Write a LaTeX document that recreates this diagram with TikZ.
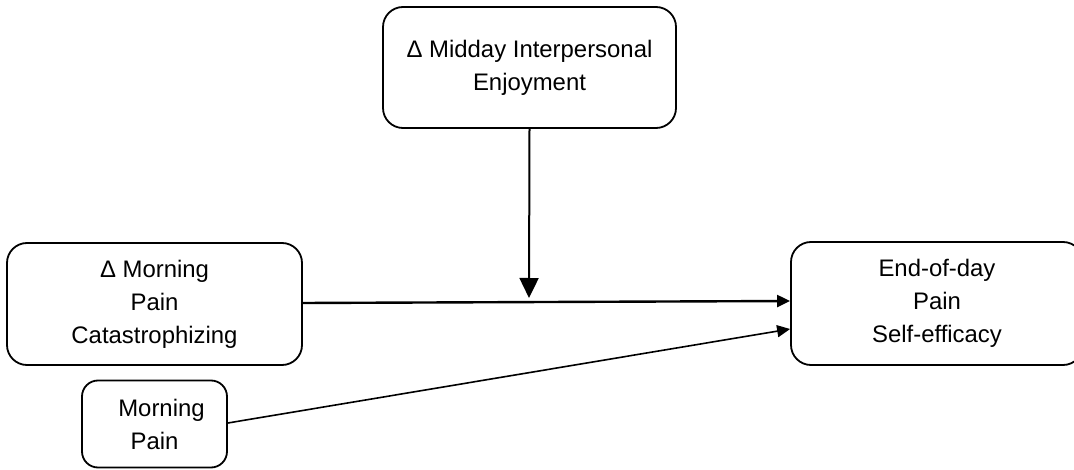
\documentclass[tikz,border=0pt]{standalone}
\usepackage{fontspec}
\setmainfont{Liberation Sans}
\usetikzlibrary{arrows.meta}
\begin{document}
\begin{tikzpicture}[x=1pt,y=-1pt,
  box/.style={draw, line width=1.8pt, rounded corners=20pt, inner sep=0pt, align=center,
    font=\fontsize{23.9}{33}\selectfont},
  arr/.style={-{Triangle[length=13pt,width=12pt]}},
  bigarr/.style={-{Triangle[length=20pt,width=19pt]}},
]
\useasboundingbox (0,0) rectangle (1074,470);
\node[box, minimum width=293pt, minimum height=121pt] (mid) at (529.5,67.5) {Δ Midday Interpersonal\\Enjoyment};
\node[box, minimum width=295pt, minimum height=122pt] (cat) at (154.5,304) {Δ Morning\\Pain\\Catastrophizing};
\node[box, minimum width=292pt, minimum height=123pt] (eod) at (937,303.5) {End-of-day\\Pain\\Self-efficacy};
\node[box, minimum width=145pt, minimum height=87pt, rounded corners=16pt] (mp) at (154.5,424) {\hspace*{14pt}Morning\\Pain};
\draw[arr, line width=2.4pt] (cat.east |- 0,303) -- (eod.west |- 0,301);
\draw[bigarr, line width=2pt] (mid.south) -- (529,298);
\draw[arr, line width=1.6pt] (mp.east |- 0,423) -- (eod.west |- 0,329);
\end{tikzpicture}
\end{document}
